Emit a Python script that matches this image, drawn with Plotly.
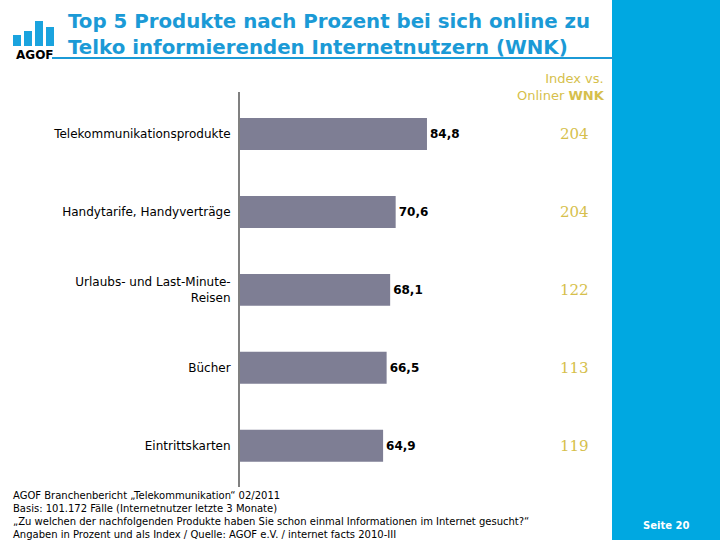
import plotly.graph_objects as go

categories = ["Telekommunikationsprodukte", "Handytarife, Handyverträge",
              "Urlaubs- und Last-Minute-<br>Reisen", "Bücher", "Eintrittskarten"]
values = [84.8, 70.6, 68.1, 66.5, 64.9]
index_values = [204, 204, 122, 113, 119]

W, H = 720, 540
L, R, T, B = 240, 108, 92, 53
PW, PH = W - L - R, H - T - B


def px(x):
    return (x - L) / PW


def py(y):
    return (H - B - y) / PH


BLUE = "#00a8e1"
TITLE_BLUE = "#1b9ad6"
GOLD = "#d6bf4c"
BAR = "#7e7e94"

fig = go.Figure()
fig.add_trace(go.Bar(
    x=values, y=categories, orientation="h",
    marker=dict(color=BAR, line=dict(width=0)),
    width=0.41,
    texttemplate="%{x:.1f}", textposition="outside",
    textfont=dict(family="DejaVu Sans", size=12, color="black", weight="bold"),
    cliponaxis=False, hoverinfo="skip",
))

shapes = [
    dict(type="rect", xref="paper", yref="paper", x0=px(612), x1=px(721),
         y0=py(541), y1=py(-1), fillcolor=BLUE, line=dict(width=0), layer="below"),
    dict(type="line", xref="paper", yref="paper", x0=px(52), x1=px(614),
         y0=py(58), y1=py(58), line=dict(color=TITLE_BLUE, width=2)),
]
# AGOF logo bars
for x0, top in [(13, 35), (24, 31), (35, 21), (46, 27)]:
    shapes.append(dict(type="rect", xref="paper", yref="paper", x0=px(x0), x1=px(x0 + 8),
                       y0=py(46), y1=py(top), fillcolor="#1aa3de", line=dict(width=0)))

annotations = [
    dict(xref="paper", yref="paper", x=px(66), y=py(35), xanchor="left", yanchor="middle",
         text="Top 5 Produkte nach Prozent bei sich online zu<br>Telko informierenden Internetnutzern (WNK)",
         align="left", showarrow=False,
         font=dict(family="DejaVu Sans", size=19.8, color=TITLE_BLUE, weight="bold")),
    dict(xref="paper", yref="paper", x=px(35), y=py(55), xanchor="center", yanchor="middle",
         text="<b>AGOF</b>", showarrow=False,
         font=dict(family="DejaVu Sans", size=12, color="black")),
    dict(xref="paper", yref="paper", x=px(607), y=py(87), xanchor="right", yanchor="middle",
         text="Index vs.<br>Onliner <b>WNK</b>", align="right", showarrow=False,
         font=dict(family="DejaVu Sans", size=13, color=GOLD)),
    dict(xref="paper", yref="paper", x=px(11), y=py(515), xanchor="left", yanchor="middle",
         text=("AGOF Branchenbericht „Telekommunikation“ 02/2011<br>"
               "Basis: 101.172 Fälle (Internetnutzer letzte 3 Monate)<br>"
               "„Zu welchen der nachfolgenden Produkte haben Sie schon einmal Informationen im Internet gesucht?“<br>"
               "Angaben in Prozent und als Index / Quelle: AGOF e.V. / internet facts 2010-III"),
         align="left", showarrow=False,
         font=dict(family="DejaVu Sans", size=10, color="black")),
    dict(xref="paper", yref="paper", x=px(666), y=py(525), xanchor="center", yanchor="middle",
         text="<b>Seite 20</b>", showarrow=False,
         font=dict(family="DejaVu Sans", size=10, color="white")),
]
for cat, iv in zip(categories, index_values):
    annotations.append(dict(xref="paper", yref="y", x=px(574), y=cat, xanchor="center",
                            yanchor="middle", text=str(iv), showarrow=False,
                            font=dict(family="DejaVu Serif", size=15, color=GOLD)))

fig.update_layout(
    width=W, height=H, autosize=False,
    margin=dict(l=L, r=R, t=T, b=B, pad=0),
    paper_bgcolor="white", plot_bgcolor="white",
    separators=",.",
    showlegend=False,
    bargap=0.59,
    xaxis=dict(range=[0, PW / 2.205], showgrid=False, zeroline=False, showline=False,
               showticklabels=False, ticks="", fixedrange=True),
    yaxis=dict(range=[4.53, -0.54], showgrid=False, zeroline=False, showline=True,
               linecolor="#808080", linewidth=2, ticks="", ticklabelstandoff=5,
               tickfont=dict(family="DejaVu Sans", size=12, color="black")),
    shapes=shapes, annotations=annotations,
)
fig.write_html("out.html", config={"displayModeBar": False},
               post_script="document.body.style.margin='0';document.body.style.overflow='hidden';")
